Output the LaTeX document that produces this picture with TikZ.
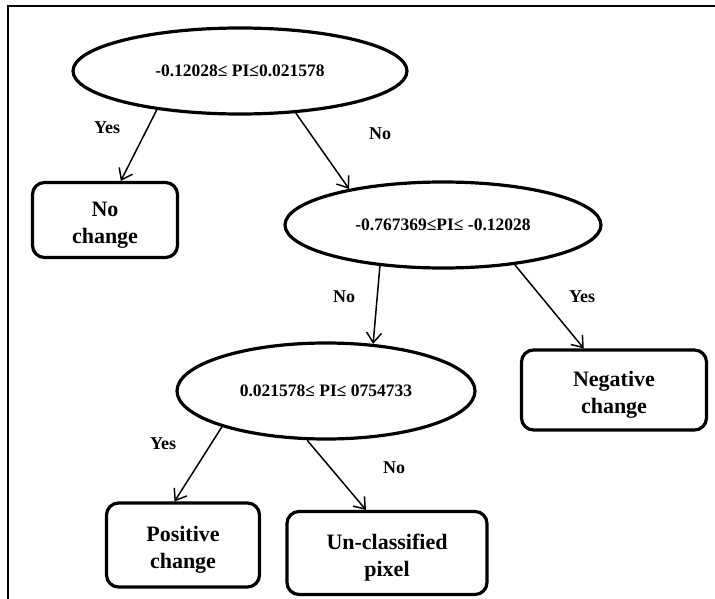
\documentclass[tikz,border=0pt]{standalone}
\usepackage{fontspec}
\setmainfont{Liberation Serif}
\usetikzlibrary{shapes.geometric,arrows.meta}
% tall strut that lowers the two-line leaf labels a little
\newcommand\leafstrut{\rule{0pt}{25pt}}
\begin{document}
\begin{tikzpicture}[x=1pt,y=-1pt,
  test/.style={ellipse,draw,line width=3.2pt,inner sep=0pt,
    font=\fontsize{17.5}{20}\selectfont\bfseries},
  leaf/.style={rectangle,draw,line width=3.2pt,rounded corners=12pt,inner sep=0pt,
    align=center,font=\fontsize{22}{27}\selectfont\bfseries},
  branch/.style={line width=1.5pt,-{Straight Barb[length=10pt,width=15pt,line width=1.5pt]}},
  answer/.style={font=\fontsize{18}{20}\selectfont\bfseries}]
\useasboundingbox (0,0) rectangle (715,599);
% outer frame (top and left edges)
\draw[line width=2.5pt] (715,6) -- (8,6) -- (8,599);

% decision tests
\node[test,minimum width=334pt,minimum height=86pt] (e1) at (240,71) {-0.12028≤ PI≤0.021578};
\node[test,minimum width=316pt,minimum height=86pt] (e2) at (443,225) {-0.767369≤PI≤ -0.12028};
\node[test,minimum width=298pt,minimum height=96pt] (e3) at (326,391) {0.021578≤ PI≤ 0754733};

% outcomes
\node[leaf,minimum width=145pt,minimum height=75pt] (nc) at (105,220) {\leafstrut No\\change};
\node[leaf,minimum width=185pt,minimum height=80pt] (neg) at (614,390) {\leafstrut Negative\\change};
\node[leaf,minimum width=153pt,minimum height=84pt] (pos) at (183,545) {\leafstrut Positive\\change};
\node[leaf,minimum width=200pt,minimum height=83pt] (unc) at (387,553) {\leafstrut Un-classified\\pixel};

% branches
\draw[branch] (e1.205) -- (nc.68);
\draw[branch] (e1.323) -- (e2.159);
\draw[branch] (e2.213) -- (e3.45);
\draw[branch] (e2.331) -- (neg.126);
\draw[branch] (e3.199) -- (pos.101);
\draw[branch] (e3.249) -- (unc.116);

% branch answers
\node[answer] (a1) at (107,128) {Yes};
\node[answer] (a2) at (380,134) {No};
\node[answer] (a3) at (344,297) {No};
\node[answer] (a4) at (582,297) {Yes};
\node[answer] (a5) at (163,444) {Yes};
\node[answer] (a6) at (394,468) {No};
\end{tikzpicture}
\end{document}
